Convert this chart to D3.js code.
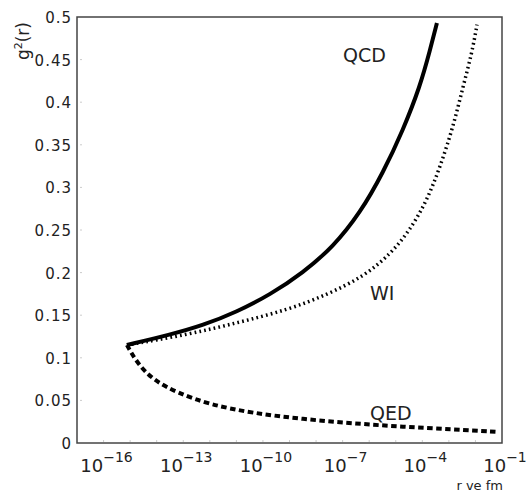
<!DOCTYPE html>
<html>
<head>
<meta charset="utf-8">
<script src="https://cdn.jsdelivr.net/npm/d3@7"></script>
<style>
	body { margin: 0; background: #fff; }
	text { font-family: 'DejaVu Sans', sans-serif; fill: #222; }
</style>
</head>
<body>
<svg id="chart" width="529" height="494"></svg>
<script>
// exponent of r (fm) and g^2 values
const qcdLogR = [-15.12, -13.5, -12.26, -10.98, -9.73, -8.49, -7.36, -6.34, -5.48, -4.73, -4.09, -3.71, -3.45];
const qcdG = [0.115, 0.127, 0.138, 0.154, 0.174, 0.2, 0.23, 0.27, 0.317, 0.367, 0.418, 0.461, 0.493];

const wiLogR = [-15.12, -12.86, -10.98, -9.09, -7.59, -6.23, -5.22, -4.46, -3.82, -3.33, -2.84, -2.47, -2.13, -1.94];
const wiG = [0.115, 0.127, 0.141, 0.156, 0.174, 0.195, 0.221, 0.25, 0.285, 0.324, 0.371, 0.418, 0.458, 0.491];

const qedLogR = [-15.12, -14.74, -14.14, -13.23, -11.99, -10.37, -8.49, -6.61, -4.73, -2.84, -1.19];
const qedG = [0.115, 0.094, 0.074, 0.059, 0.045, 0.035, 0.028, 0.023, 0.019, 0.016, 0.013];

const xTickExps = [-16, -13, -10, -7, -4, -1];
const yTicks = [0, 0.05, 0.1, 0.15, 0.2, 0.25, 0.3, 0.35, 0.4, 0.45, 0.5];

const margin = { left: 77, right: 27, top: 17, bottom: 51 };
const width = 529, height = 494;

const svg = d3.select('svg[id=chart]');

const x = d3.scaleLog()
	.domain([1e-17, 1e-1])
	.range([margin.left, width - margin.right]);
const y = d3.scaleLinear()
	.domain([0, 0.5])
	.range([height - margin.bottom, margin.top]);

const zip = (es, gs) => es.map((e, i) => ({ r: Math.pow(10, e), g: gs[i] }));

const series = [
	{ name: 'QCD', data: zip(qcdLogR, qcdG), width: 4, dash: null, label: [343, 62] },
	{ name: 'WI', data: zip(wiLogR, wiG), width: 3.5, dash: '1.7,3.2', label: [370, 300] },
	{ name: 'QED', data: zip(qedLogR, qedG), width: 4, dash: '5.5,3.5', label: [370, 420] },
];

// faint ticks inside the frame
const decades = d3.range(-16, -1).map((e) => Math.pow(10, e));
svg.append('g')
	.selectAll('line')
	.data(decades)
	.join('line')
	.attr('x1', (d) => x(d))
	.attr('x2', (d) => x(d))
	.attr('y1', y(0) - 1)
	.attr('y2', y(0) - 3)
	.attr('stroke', '#ccc');

svg.append('g')
	.selectAll('line')
	.data(yTicks.slice(1, -1))
	.join('line')
	.attr('x1', margin.left + 3)
	.attr('x2', margin.left + 5)
	.attr('y1', (d) => y(d))
	.attr('y2', (d) => y(d))
	.attr('stroke', '#ccc');

// curves
const line = d3.line()
	.x((d) => x(d.r))
	.y((d) => y(d.g))
	.curve(d3.curveBasis);

svg.append('g')
	.selectAll('path')
	.data(series)
	.join('path')
	.attr('d', (s) => line(s.data))
	.attr('fill', 'none')
	.attr('stroke', '#000')
	.attr('stroke-width', (s) => s.width)
	.attr('stroke-dasharray', (s) => s.dash);

svg.append('g')
	.selectAll('text')
	.data(series)
	.join('text')
	.attr('x', (s) => s.label[0])
	.attr('y', (s) => s.label[1])
	.attr('font-size', 19)
	.text((s) => s.name);

// frame
svg.append('rect')
	.attr('x', margin.left)
	.attr('y', margin.top)
	.attr('width', width - margin.left - margin.right)
	.attr('height', height - margin.top - margin.bottom)
	.attr('fill', 'none')
	.attr('stroke', '#444')
	.attr('stroke-width', 1.5);

// y tick labels
svg.append('g')
	.selectAll('text')
	.data(yTicks)
	.join('text')
	.attr('x', margin.left - 5)
	.attr('y', (d) => y(d) + 6)
	.attr('text-anchor', 'end')
	.attr('font-size', 15)
	.attr('letter-spacing', 1)
	.text((d) => d3.format('~g')(d));

// x tick labels 10^n
const xl = svg.append('g')
	.selectAll('text')
	.data(xTickExps)
	.join('text')
	.attr('x', (d) => x(Math.pow(10, d)) + 3)
	.attr('y', 472)
	.attr('text-anchor', 'middle')
	.attr('font-size', 18);
xl.append('tspan').text('10');
xl.append('tspan')
	.attr('dy', -10)
	.attr('font-size', 14)
	.text((d) => '\u2212' + Math.abs(d));

// axis titles
svg.append('text')
	.attr('x', 503)
	.attr('y', 490)
	.attr('text-anchor', 'end')
	.attr('font-size', 13)
	.text('r ve fm');

const yt = svg.append('text')
	.attr('transform', 'translate(29,22) rotate(-90)')
	.attr('text-anchor', 'end')
	.attr('font-size', 17);
yt.append('tspan').text('g');
yt.append('tspan').attr('dy', -7).attr('font-size', 11).text('2');
yt.append('tspan').attr('dy', 7).text('(r)');
</script>
</body>
</html>
